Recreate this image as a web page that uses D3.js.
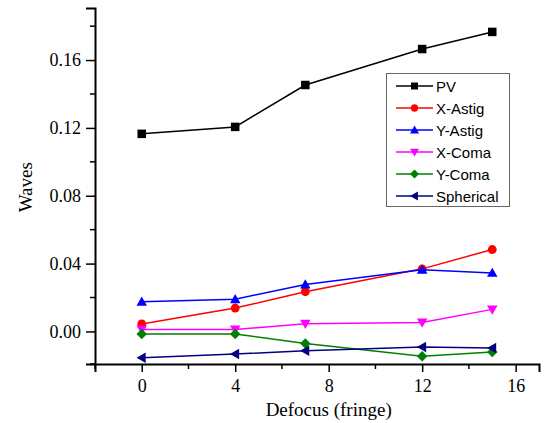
<!DOCTYPE html>
<html>
<head>
<meta charset="utf-8">
<script src="https://cdn.jsdelivr.net/npm/d3@7"></script>
<style>
  body { margin: 0; background: #fff; }
  svg { display: block; }
  .axis text { font-family: "Liberation Serif", "Times New Roman", serif; font-size: 18px; }
</style>
</head>
<body>
<div id="chart"></div>
<script>
// defocus positions (fringe)
var defocus = [0, 4, 7, 12, 15];

var pv = [0.1165, 0.1206, 0.1453, 0.1665, 0.1766];
var xAstig = [0.0044, 0.0138, 0.0234, 0.0369, 0.0483];
var yAstig = [0.0175, 0.0190, 0.0277, 0.0363, 0.0345];
var xComa = [0.0012, 0.0012, 0.0045, 0.0053, 0.0130];
var yComa = [-0.0015, -0.0015, -0.0071, -0.0147, -0.0121];
var spherical = [-0.0155, -0.0133, -0.0114, -0.0092, -0.0098];

var seriesNames = ["PV", "X-Astig", "Y-Astig", "X-Coma", "Y-Coma", "Spherical"];
var seriesColors = ["#000000", "#ff0000", "#0000ff", "#ff00ff", "#008000", "#000080"];
var seriesSymbols = ["square", "circle", "triUp", "triDown", "diamond", "triLeft"];
var seriesValues = [pv, xAstig, yAstig, xComa, yComa, spherical];

var yTicks = [0.00, 0.04, 0.08, 0.12, 0.16];
var xTicks = [0, 4, 8, 12, 16];

var width = 546, height = 423;
var margin = { top: 8, right: 7, bottom: 59, left: 95 };

var svg = d3.select("#chart").append("svg")
    .attr("width", width)
    .attr("height", height);

var x = d3.scaleLinear()
    .domain([-2, 17])
    .range([margin.left, width - margin.right]);

var y = d3.scaleLinear()
    .domain([-0.0192, 0.1907])
    .range([height - margin.bottom, margin.top]);

// axes
var xAxis = d3.axisBottom(x)
    .tickValues(xTicks)
    .tickSize(8)
    .tickPadding(7)
    .tickFormat(d3.format("d"));

var yAxis = d3.axisLeft(y)
    .tickValues(yTicks)
    .tickSize(9)
    .tickPadding(5)
    .tickFormat(d3.format(".2f"));

var gx = svg.append("g")
    .attr("class", "axis")
    .attr("transform", "translate(0," + (height - margin.bottom) + ")")
    .call(xAxis);

var gy = svg.append("g")
    .attr("class", "axis")
    .attr("transform", "translate(" + margin.left + ",0)")
    .call(yAxis);

[gx, gy].forEach(function (g) {
    g.attr("font-family", null).attr("font-size", null);
    g.select(".domain").attr("stroke", "#000").attr("stroke-width", 2);
    g.selectAll(".tick line").attr("stroke", "#000").attr("stroke-width", 1.5);
    g.selectAll(".tick text")
        .attr("fill", "#000")
        .style("font-family", "'Liberation Serif', serif")
        .style("font-size", "18px");
});

// minor ticks
var xMinor = [-2, 2, 6, 10, 14];
gx.selectAll(".minor")
    .data(xMinor)
    .enter().append("line")
    .attr("class", "minor")
    .attr("x1", function (d) { return x(d); })
    .attr("x2", function (d) { return x(d); })
    .attr("y1", 0)
    .attr("y2", 5)
    .attr("stroke", "#000")
    .attr("stroke-width", 1.5);

var yMinor = [-0.02, 0.02, 0.06, 0.10, 0.14, 0.18];
gy.selectAll(".minor")
    .data(yMinor)
    .enter().append("line")
    .attr("class", "minor")
    .attr("x1", 0)
    .attr("x2", -5)
    .attr("y1", function (d) { return y(Math.max(d, y.domain()[0])); })
    .attr("y2", function (d) { return y(Math.max(d, y.domain()[0])); })
    .attr("stroke", "#000")
    .attr("stroke-width", 1.5);

// axis titles
svg.append("text")
    .attr("x", x(8))
    .attr("y", 416)
    .attr("text-anchor", "middle")
    .style("font-family", "'Liberation Serif', 'Times New Roman', serif")
    .style("font-size", "19px")
    .text("Defocus (fringe)");

svg.append("text")
    .attr("transform", "translate(32," + y(0.085) + ") rotate(-90)")
    .attr("text-anchor", "middle")
    .style("font-family", "'Liberation Serif', 'Times New Roman', serif")
    .style("font-size", "19px")
    .text("Waves");

// marker drawing
function symbolPath(type, s) {
    var h = s / 2;
    if (type === "square") return "M" + -h + "," + -h + "H" + h + "V" + h + "H" + -h + "Z";
    if (type === "circle") return d3.symbol().type(d3.symbolCircle).size(s * s * 0.85)();
    if (type === "diamond") return "M0," + -(h + 1) + "L" + (h + 1) + ",0L0," + (h + 1) + "L" + -(h + 1) + ",0Z";
    var t = h + 1;
    if (type === "triUp") return "M0," + -t + "L" + t + "," + (t * 0.75) + "L" + -t + "," + (t * 0.75) + "Z";
    if (type === "triDown") return "M0," + t + "L" + t + "," + -(t * 0.75) + "L" + -t + "," + -(t * 0.75) + "Z";
    if (type === "triLeft") return "M" + -t + ",0L" + (t * 0.75) + "," + -t + "L" + (t * 0.75) + "," + t + "Z";
}

var line = d3.line()
    .x(function (d) { return x(d[0]); })
    .y(function (d) { return y(d[1]); });

seriesValues.forEach(function (vals, i) {
    var pts = defocus.map(function (d, j) { return [d, vals[j]]; });
    var g = svg.append("g");
    g.append("path")
        .datum(pts)
        .attr("d", line)
        .attr("fill", "none")
        .attr("stroke", seriesColors[i])
        .attr("stroke-width", 1.5);
    g.selectAll("path.pt")
        .data(pts)
        .enter().append("path")
        .attr("class", "pt")
        .attr("transform", function (d) { return "translate(" + x(d[0]) + "," + y(d[1]) + ")"; })
        .attr("d", symbolPath(seriesSymbols[i], 8.5))
        .attr("fill", seriesColors[i]);
});

// legend
var legend = svg.append("g").attr("transform", "translate(386,73)");
legend.append("rect")
    .attr("x", 0.5)
    .attr("y", 0.5)
    .attr("width", 123)
    .attr("height", 133)
    .attr("fill", "#fff")
    .attr("stroke", "#666")
    .attr("stroke-width", 1);

seriesNames.forEach(function (name, i) {
    var ly = 13 + i * 22;
    var item = legend.append("g").attr("transform", "translate(0," + ly + ")");
    item.append("line")
        .attr("x1", 10).attr("x2", 47)
        .attr("y1", 0).attr("y2", 0)
        .attr("stroke", seriesColors[i])
        .attr("stroke-width", 1.5);
    item.append("path")
        .attr("transform", "translate(28.5,0)")
        .attr("d", symbolPath(seriesSymbols[i], 7))
        .attr("fill", seriesColors[i]);
    item.append("text")
        .attr("x", 50)
        .attr("y", 5.5)
        .style("font-family", "'Liberation Sans', Arial, sans-serif")
        .style("font-size", "15px")
        .text(name);
});
</script>
</body>
</html>
